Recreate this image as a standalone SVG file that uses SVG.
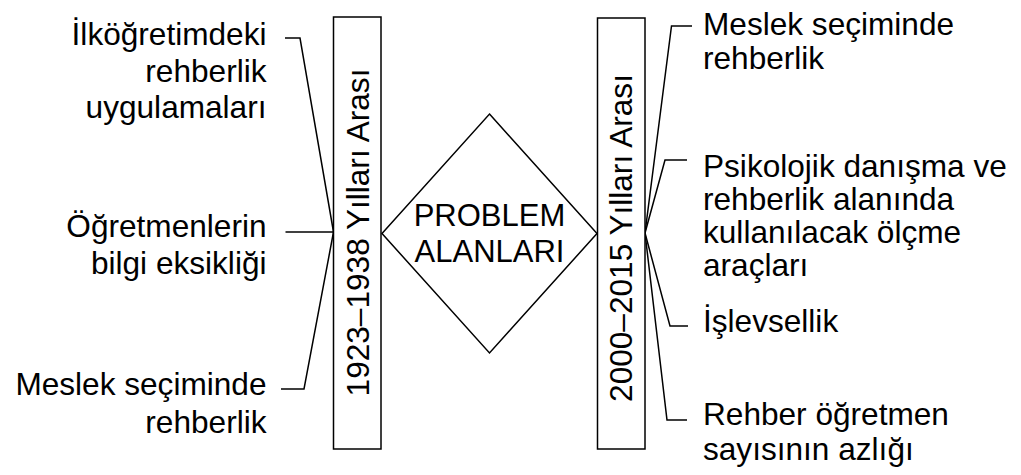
<svg xmlns="http://www.w3.org/2000/svg" width="1021" height="475" viewBox="0 0 1021 475">
  <style>
    text { font-family: "Liberation Sans", Arial, sans-serif; fill: #000; }
    .lbl { font-size: 31.6px; }
    .end { text-anchor: end; }
    .mid { text-anchor: middle; }
    .box { fill: #fff; stroke: #000; stroke-width: 1.5; }
    .wire { fill: none; stroke: #000; stroke-width: 1.5; }
  </style>
  <rect width="1021" height="475" fill="#fff"/>

  <!-- connectors: labels fan into the two period bars -->
  <g id="connectors" class="wire">
    <polyline points="285,38 300,38 333.5,232"/>
    <polyline points="285.5,232 333.5,232"/>
    <polyline points="281,389 304,389 333.5,232"/>
    <polyline points="692,26 671.5,26 645,233"/>
    <polyline points="687,160 665,160 645,233"/>
    <polyline points="688,326 670,326 645,233"/>
    <polyline points="687,420 667,420 645,233"/>
  </g>

  <g id="period-1923-1938">
    <rect class="box" x="333.5" y="17" width="47.5" height="432"/>
    <text class="lbl mid" transform="translate(368.5,232.5) rotate(-90)">1923–1938 Yılları Arası</text>
  </g>

  <g id="problem-areas">
    <polygon class="box" points="489.5,114 597,233.5 489.5,353 382,233.5"/>
    <text class="mid" font-size="31" x="489.5" y="226">PROBLEM</text>
    <text class="mid" font-size="31" x="489.5" y="261.5">ALANLARI</text>
  </g>

  <g id="period-2000-2015">
    <rect class="box" x="597.5" y="18" width="47.5" height="431"/>
    <text class="lbl mid" transform="translate(632,238) rotate(-90)">2000–2015 Yılları Arası</text>
  </g>

  <g id="left-1">
    <text class="lbl end" x="266.5" y="45">İlköğretimdeki</text>
    <text class="lbl end" x="266.5" y="81.7">rehberlik</text>
    <text class="lbl end" x="266.5" y="118.3">uygulamaları</text>
  </g>
  <g id="left-2">
    <text class="lbl end" x="266.5" y="237">Öğretmenlerin</text>
    <text class="lbl end" x="266.5" y="273.5">bilgi eksikliği</text>
  </g>
  <g id="left-3">
    <text class="lbl end" x="266.5" y="395">Meslek seçiminde</text>
    <text class="lbl end" x="266.5" y="433">rehberlik</text>
  </g>

  <g id="right-1">
    <text class="lbl" x="703" y="35">Meslek seçiminde</text>
    <text class="lbl" x="703" y="69">rehberlik</text>
  </g>
  <g id="right-2">
    <text class="lbl" x="703" y="177">Psikolojik danışma ve</text>
    <text class="lbl" x="703" y="210">rehberlik alanında</text>
    <text class="lbl" x="703" y="243">kullanılacak ölçme</text>
    <text class="lbl" x="703" y="276">araçları</text>
  </g>
  <g id="right-3">
    <text class="lbl" x="703" y="332">İşlevsellik</text>
  </g>
  <g id="right-4">
    <text class="lbl" x="703" y="425">Rehber öğretmen</text>
    <text class="lbl" x="703" y="460">sayısının azlığı</text>
  </g>
</svg>
